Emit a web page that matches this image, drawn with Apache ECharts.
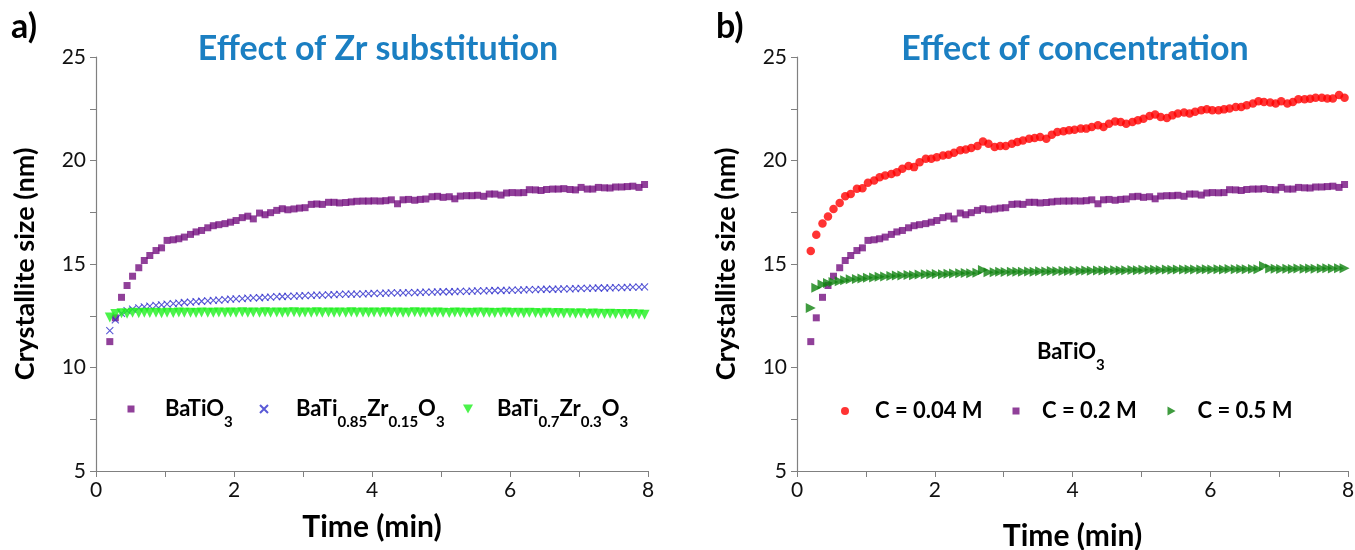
<!DOCTYPE html>
<html>
<head>
<meta charset="utf-8">
<script src="https://cdn.jsdelivr.net/npm/echarts@6/dist/echarts.min.js"></script>
<style>
  html, body { margin: 0; padding: 0; background: #fff; }
  #chart { width: 1355px; height: 550px; }
</style>
</head>
<body>
<div id="chart"></div>
<script>
// sampling times (min), one spectrum every 5 s
const times = [
  0.20, 0.28, 0.37, 0.45, 0.53, 0.62, 0.70, 0.78, 0.87, 0.95,
  1.03, 1.12, 1.20, 1.28, 1.37, 1.45, 1.53, 1.62, 1.70, 1.78,
  1.87, 1.95, 2.03, 2.12, 2.20, 2.28, 2.37, 2.45, 2.53, 2.62,
  2.70, 2.78, 2.87, 2.95, 3.03, 3.12, 3.20, 3.28, 3.37, 3.45,
  3.53, 3.62, 3.70, 3.78, 3.87, 3.95, 4.03, 4.12, 4.20, 4.28,
  4.37, 4.45, 4.53, 4.62, 4.70, 4.78, 4.87, 4.95, 5.03, 5.12,
  5.20, 5.28, 5.37, 5.45, 5.53, 5.62, 5.70, 5.78, 5.87, 5.95,
  6.03, 6.12, 6.20, 6.28, 6.37, 6.45, 6.53, 6.62, 6.70, 6.78,
  6.87, 6.95, 7.03, 7.12, 7.20, 7.28, 7.37, 7.45, 7.53, 7.62,
  7.70, 7.78, 7.87, 7.95
];

// BaTiO3, C = 0.2 M (same run in both panels)
const batio3 = [
  11.25, 12.40, 13.39, 13.96, 14.41, 14.82, 15.17, 15.41, 15.65, 15.78,
  16.14, 16.17, 16.22, 16.30, 16.43, 16.55, 16.62, 16.75, 16.85, 16.90,
  16.95, 17.02, 17.10, 17.24, 17.31, 17.18, 17.46, 17.38, 17.48, 17.59,
  17.67, 17.62, 17.66, 17.70, 17.72, 17.88, 17.90, 17.88, 17.98, 17.98,
  17.95, 17.97, 18.00, 18.03, 18.04, 18.04, 18.05, 18.04, 18.06, 18.10,
  17.91, 18.10, 18.12, 18.08, 18.12, 18.14, 18.25, 18.27, 18.22, 18.25,
  18.15, 18.28, 18.30, 18.30, 18.32, 18.27, 18.38, 18.38, 18.33, 18.43,
  18.45, 18.44, 18.45, 18.59, 18.58, 18.55, 18.60, 18.62, 18.62, 18.64,
  18.60, 18.58, 18.70, 18.62, 18.62, 18.70, 18.68, 18.67, 18.72, 18.72,
  18.74, 18.76, 18.70, 18.84
];

const zr015 = [
  11.78, 12.30, 12.62, 12.75, 12.82, 12.88, 12.93, 12.97, 13.00, 13.03,
  13.06, 13.09, 13.11, 13.14, 13.16, 13.18, 13.20, 13.22, 13.24, 13.26,
  13.28, 13.30, 13.31, 13.33, 13.35, 13.36, 13.37, 13.39, 13.40, 13.42,
  13.43, 13.44, 13.45, 13.46, 13.47, 13.48, 13.50, 13.50, 13.51, 13.52,
  13.53, 13.54, 13.55, 13.55, 13.56, 13.57, 13.58, 13.58, 13.59, 13.60,
  13.60, 13.61, 13.62, 13.62, 13.63, 13.64, 13.64, 13.65, 13.66, 13.66,
  13.67, 13.68, 13.68, 13.69, 13.70, 13.70, 13.71, 13.72, 13.72, 13.73,
  13.74, 13.74, 13.75, 13.76, 13.76, 13.77, 13.78, 13.78, 13.79, 13.80,
  13.80, 13.81, 13.82, 13.82, 13.83, 13.84, 13.84, 13.85, 13.86, 13.86,
  13.87, 13.88, 13.88, 13.90
];

const zr03 = [
  12.42, 12.58, 12.62, 12.60, 12.64, 12.62, 12.65, 12.63, 12.64, 12.62,
  12.65, 12.63, 12.66, 12.64, 12.65, 12.63, 12.66, 12.64, 12.65, 12.66,
  12.64, 12.66, 12.65, 12.67, 12.64, 12.66, 12.65, 12.67, 12.65, 12.66,
  12.64, 12.66, 12.67, 12.65, 12.66, 12.64, 12.67, 12.65, 12.66, 12.64,
  12.66, 12.65, 12.67, 12.64, 12.66, 12.65, 12.66, 12.64, 12.67, 12.65,
  12.66, 12.64, 12.65, 12.67, 12.65, 12.66, 12.64, 12.66, 12.65, 12.63,
  12.66, 12.64, 12.65, 12.63, 12.66, 12.64, 12.65, 12.63, 12.64, 12.66,
  12.63, 12.65, 12.62, 12.64, 12.63, 12.61, 12.64, 12.62, 12.63, 12.61,
  12.62, 12.60, 12.62, 12.59, 12.61, 12.60, 12.58, 12.60, 12.58, 12.59,
  12.57, 12.58, 12.56, 12.55
];

const c004 = [
  15.63, 16.41, 16.96, 17.30, 17.66, 17.95, 18.27, 18.38, 18.63, 18.66,
  18.92, 19.03, 19.19, 19.27, 19.35, 19.43, 19.60, 19.73, 19.68, 19.92,
  20.08, 20.08, 20.16, 20.24, 20.28, 20.37, 20.49, 20.53, 20.60, 20.70,
  20.92, 20.81, 20.65, 20.70, 20.70, 20.81, 20.89, 20.97, 21.05, 21.09,
  21.14, 21.05, 21.25, 21.38, 21.41, 21.46, 21.49, 21.54, 21.54, 21.62,
  21.70, 21.62, 21.78, 21.89, 21.86, 21.78, 21.86, 21.94, 22.02, 22.15,
  22.22, 22.10, 22.05, 22.18, 22.27, 22.32, 22.27, 22.35, 22.43, 22.48,
  22.43, 22.43, 22.47, 22.51, 22.59, 22.59, 22.67, 22.75, 22.86, 22.83,
  22.80, 22.75, 22.86, 22.75, 22.83, 22.96, 22.96, 22.98, 23.03, 23.03,
  23.00, 23.00, 23.16, 23.03
];

const c05 = [
  12.88, 13.85, 14.01, 14.08, 14.13, 14.17, 14.22, 14.26, 14.28, 14.30,
  14.34, 14.35, 14.39, 14.40, 14.42, 14.44, 14.45, 14.47, 14.46, 14.49,
  14.50, 14.50, 14.52, 14.50, 14.53, 14.54, 14.55, 14.56, 14.55, 14.58,
  14.71, 14.60, 14.60, 14.62, 14.61, 14.62, 14.63, 14.62, 14.64, 14.63,
  14.65, 14.64, 14.66, 14.65, 14.66, 14.66, 14.67, 14.66, 14.68, 14.67,
  14.68, 14.69, 14.68, 14.70, 14.69, 14.70, 14.71, 14.70, 14.72, 14.71,
  14.72, 14.71, 14.73, 14.72, 14.73, 14.74, 14.73, 14.74, 14.73, 14.75,
  14.74, 14.75, 14.74, 14.76, 14.75, 14.76, 14.75, 14.76, 14.75, 14.90,
  14.78, 14.77, 14.76, 14.77, 14.76, 14.78, 14.77, 14.78, 14.77, 14.78,
  14.79, 14.78, 14.79, 14.80
];

const xTicks = [0, 2, 4, 6, 8];

const FONT = 'Lato';
const pts = vals => times.map((t, i) => [t, vals[i]]);

const rich = {
  n: { fontFamily: FONT, fontWeight: 'bold', fontSize: 22, color: '#000' },
  s: { fontFamily: FONT, fontWeight: 'bold', fontSize: 15, color: '#000', padding: [26, 0, 0, 0] }
};
const labels = {
  'BaTiO3': '{p| }{n|BaTiO}{s|3}',
  'BaTi0.85Zr0.15O3': '{p| }{n|BaTi}{s|0.85}{n|Zr}{s|0.15}{n|O}{s|3}',
  'BaTi0.7Zr0.3O3': '{p| }{n|BaTi}{s|0.7}{n|Zr}{s|0.3}{n|O}{s|3}',
  'C = 0.04 M': '{p| }{n|C = 0.04 M}',
  'C = 0.2 M': '{p| }{n|C = 0.2 M}',
  'C = 0.5 M': '{p| }{n|C = 0.5 M}'
};

const SQUARE = 'rect';
const CROSS = 'path://M0,0L10,10M0,10L10,0';
const TRI_DOWN = 'path://M0,0L10,0L5,9Z';
const TRI_RIGHT = 'path://M0,0L9,5L0,10Z';

function legendAt(name, iconX, textX, iconSize, icon, top) {
  const left = iconX - iconSize / 2;
  const pad = textX - (left + iconSize) - 5;
  return {
    data: [{ name, icon }],
    left: left,
    top: top,
    padding: 0,
    itemWidth: iconSize,
    itemHeight: iconSize,
    formatter: n => labels[n],
    textStyle: { rich: Object.assign({ p: { width: pad } }, rich) },
    selectedMode: false
  };
}

function xAxis(gridIndex, nameGap) {
  return {
    gridIndex, type: 'value', min: 0, max: 8, interval: 2,
    name: 'Time (min)', nameLocation: 'middle', nameGap,
    nameTextStyle: { fontFamily: FONT, fontWeight: 'bold', fontSize: 30, color: '#000' },
    axisLine: { lineStyle: { color: '#808080', width: 1.2 } },
    axisTick: { length: 6, lineStyle: { color: '#808080' } },
    minorTick: { show: true, splitNumber: 2, length: 6, lineStyle: { color: '#808080' } },
    axisLabel: { fontFamily: FONT, fontSize: 21, color: '#111', margin: 9,
      customValues: xTicks },
    splitLine: { show: false }
  };
}
function yAxis(gridIndex) {
  return {
    gridIndex, type: 'value', min: 5, max: 25, interval: 5,
    name: 'Crystallite size (nm)', nameLocation: 'middle', nameGap: 57,
    nameTextStyle: { fontFamily: FONT, fontWeight: 'bold', fontSize: 27, color: '#000' },
    axisLine: { show: true, lineStyle: { color: '#808080', width: 1.2 } },
    axisTick: { show: true, length: 6, lineStyle: { color: '#808080' } },
    minorTick: { show: true, splitNumber: 2, length: 6, lineStyle: { color: '#808080' } },
    axisLabel: { fontFamily: FONT, fontSize: 21, color: '#111', margin: 10 },
    splitLine: { show: false }
  };
}

const PURPLE = '#74107f', BLUE = '#3030cc', LIME = '#1ef01e', RED = '#ff0000', GREEN = '#0f820f';

const chart = echarts.init(document.getElementById('chart'));
chart.setOption({
  animation: false,
  backgroundColor: '#fff',
  grid: [
    { left: 96, right: 707, top: 57, bottom: 79, outerBoundsMode: 'none' },
    { left: 797, right: 7, top: 57, bottom: 79, outerBoundsMode: 'none' }
  ],
  xAxis: [xAxis(0, 41), xAxis(1, 50)],
  yAxis: [yAxis(0), yAxis(1)],
  legend: [
    legendAt('BaTiO3', 131, 165, 7, SQUARE, 398),
    legendAt('BaTi0.85Zr0.15O3', 263, 295, 8, CROSS, 398),
    legendAt('BaTi0.7Zr0.3O3', 468, 497, 10, TRI_DOWN, 398),
    legendAt('C = 0.04 M', 845, 875, 8, 'circle', 400),
    legendAt('C = 0.2 M', 1016, 1042, 7, SQUARE, 400),
    legendAt('C = 0.5 M', 1172, 1198, 9, TRI_RIGHT, 400)
  ],
  graphic: [
    { type: 'text', left: 11, top: 10, style: { text: 'a)', fontFamily: FONT, fontWeight: 'bold', fontSize: 34, fill: '#000' } },
    { type: 'text', left: 716, top: 10, style: { text: 'b)', fontFamily: FONT, fontWeight: 'bold', fontSize: 34, fill: '#000' } },
    { type: 'text', x: 378, y: 49, style: { text: 'Effect of Zr substitution', fontFamily: FONT, fontWeight: 'bold', fontSize: 34, fill: '#1b7fc2', align: 'center', verticalAlign: 'middle' } },
    { type: 'text', x: 1075, y: 49, style: { text: 'Effect of concentration', fontFamily: FONT, fontWeight: 'bold', fontSize: 34, fill: '#1b7fc2', align: 'center', verticalAlign: 'middle' } },
    { type: 'text', left: 1037, top: 341, style: { text: '{n|BaTiO}{s|3}', rich: rich } }
  ],
  series: [
    { name: 'BaTiO3', type: 'scatter', xAxisIndex: 0, yAxisIndex: 0, data: pts(batio3),
      symbol: SQUARE, symbolSize: 7, itemStyle: { color: PURPLE } },
    { name: 'BaTi0.85Zr0.15O3', type: 'scatter', xAxisIndex: 0, yAxisIndex: 0, data: pts(zr015),
      symbol: CROSS, symbolSize: 7, itemStyle: { color: BLUE, borderColor: BLUE, borderWidth: 1.1 } },
    { name: 'BaTi0.7Zr0.3O3', type: 'scatter', xAxisIndex: 0, yAxisIndex: 0, data: pts(zr03),
      symbol: TRI_DOWN, symbolSize: 10, itemStyle: { color: LIME } },
    { name: 'C = 0.04 M', type: 'scatter', xAxisIndex: 1, yAxisIndex: 1, data: pts(c004),
      symbol: 'circle', symbolSize: 8.5, itemStyle: { color: RED } },
    { name: 'C = 0.2 M', type: 'scatter', xAxisIndex: 1, yAxisIndex: 1, data: pts(batio3),
      symbol: SQUARE, symbolSize: 7, itemStyle: { color: PURPLE } },
    { name: 'C = 0.5 M', type: 'scatter', xAxisIndex: 1, yAxisIndex: 1, data: pts(c05),
      symbol: TRI_RIGHT, symbolSize: 10, itemStyle: { color: GREEN } }
  ]
});
</script>
</body>
</html>
